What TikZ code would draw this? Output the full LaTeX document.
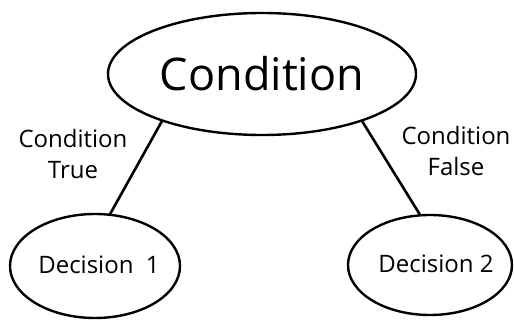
\documentclass[tikz,border=0pt]{standalone}
\usepackage{fontspec}
\setmainfont{Open Sans}
\usetikzlibrary{shapes.geometric}
\begin{document}
\begin{tikzpicture}[x=1pt,y=-1pt,
  bubble/.style={draw=black,line width=2.4pt,ellipse,inner sep=0pt,outer sep=0pt},
  link/.style={draw=black,line width=2.6pt},
  lbl/.style={align=center,inner sep=0pt,font=\fontsize{24}{31}\selectfont}]
\useasboundingbox (0,0) rectangle (514,320);
\node[bubble,minimum width=308pt,minimum height=122pt,font=\fontsize{45}{54}\selectfont] (cond) at (262,74) {\makebox[0pt]{\raisebox{2pt}{Condition}}};
\node[bubble,minimum width=170pt,minimum height=104pt,font=\fontsize{24}{29}\selectfont] (d1) at (95,266) {\makebox[0pt]{\hspace{8pt}\raisebox{2pt}{Decision\ \ 1}}};
\node[bubble,minimum width=164pt,minimum height=100pt,font=\fontsize{24}{29}\selectfont] (d2) at (430,265) {\makebox[0pt]{\hspace{12pt}\raisebox{2pt}{Decision 2}}};
\draw[link] (cond.205) -- (d1.74);
\draw[link] (cond.-25.4) -- (d2.101);
\node[lbl] (lt) at (73,154) {Condition\\True};
\node[lbl] (lf) at (456,151) {Condition\\False};
\end{tikzpicture}
\end{document}
